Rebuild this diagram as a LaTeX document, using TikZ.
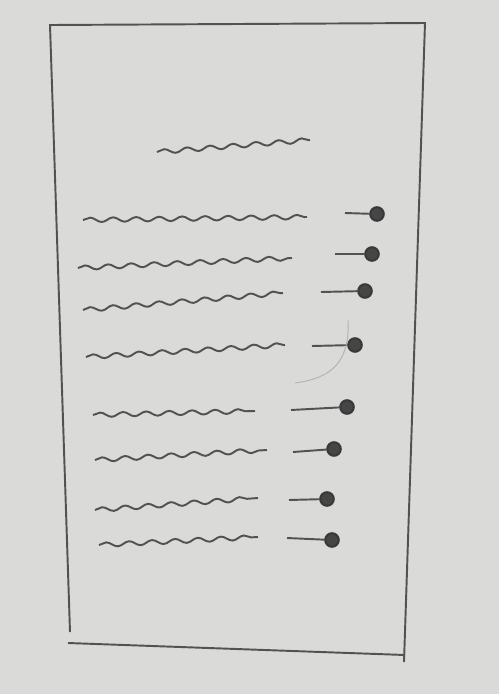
\documentclass[tikz,border=0pt]{standalone}
\usetikzlibrary{decorations.pathmorphing}
\definecolor{paper}{RGB}{218,218,216}
\definecolor{pencil}{RGB}{82,82,82}
\tikzstyle{wiggle} = [draw=pencil,line width=1.1pt,decorate,
  decoration={snake,segment length=4.6mm,amplitude=0.45mm}]
\tikzstyle{stem} = [draw=pencil,line width=1.1pt]
\tikzstyle{knob} = [circle,draw=pencil!70!black,fill=pencil!85!black,line width=1.2pt,
  inner sep=0pt,minimum size=2.7mm]

\begin{document}
\begin{tikzpicture}[x=0.02cm,y=-0.02cm]
        \fill[paper] (0,0) rectangle (499,694);
        \useasboundingbox (0,0) rectangle (499,694);

        % page outline
        \draw[pencil,line width=1.1pt] (70,632) -- (50,25) -- (425,23) -- (404,662);
        \draw[pencil,line width=1.1pt] (68,643) -- (405,655);

        % heading
        \draw[wiggle] (157,152) -- (310,140);

        % rows of text
        \draw[wiggle] (83,220) -- (307,217);
        \draw[wiggle] (78,268) -- (292,258);
        \draw[wiggle] (83,310) -- (283,293);
        \draw[wiggle] (86,357) -- (285,345);
        \draw[wiggle] (93,415) -- (255,411);
        \draw[wiggle] (95,460) -- (267,450);
        \draw[wiggle] (95,510) -- (258,498);
        \draw[wiggle] (99,545) -- (258,537);

        % sliders
        \coordinate (s1) at (345,213); \node[knob] (k1) at (377,214) {};
        \coordinate (s2) at (335,254); \node[knob] (k2) at (372,254) {};
        \coordinate (s3) at (321,292); \node[knob] (k3) at (365,291) {};
        \coordinate (s4) at (312,346); \node[knob] (k4) at (355,345) {};
        \coordinate (s5) at (291,410); \node[knob] (k5) at (347,407) {};
        \coordinate (s6) at (293,452); \node[knob] (k6) at (334,449) {};
        \coordinate (s7) at (289,500); \node[knob] (k7) at (327,499) {};
        \coordinate (s8) at (287,538); \node[knob] (k8) at (332,540) {};

        \draw[stem] (s1) -- (k1);
        \draw[stem] (s2) -- (k2);
        \draw[stem] (s3) -- (k3);
        \draw[stem] (s4) -- (k4);
        \draw[stem] (s5) -- (k5);
        \draw[stem] (s6) -- (k6);
        \draw[stem] (s7) -- (k7);
        \draw[stem] (s8) -- (k8);

        % faint stroke
        \draw[pencil!45,line width=0.5pt] (348,320) .. controls (350,362) and (332,378) .. (295,383);

\end{tikzpicture}
\end{document}
